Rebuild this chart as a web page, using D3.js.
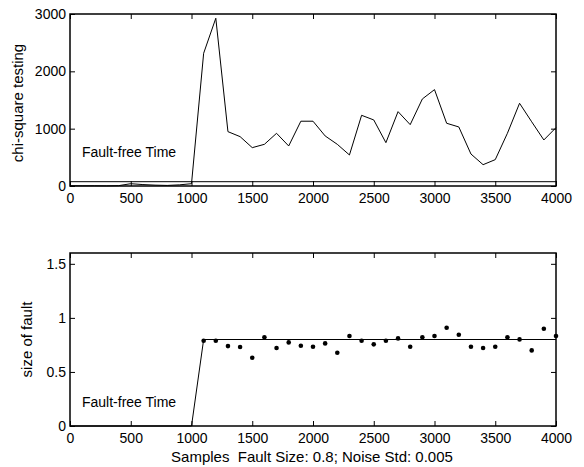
<!DOCTYPE html>
<html>
<head>
	<meta charset="utf-8">
	<script src="https://cdnjs.cloudflare.com/ajax/libs/d3/7.8.5/d3.min.js"></script>
	<style type="text/css">
		body { margin: 0; background: #fff; }
		text { font-family: "Liberation Sans", Arial, sans-serif; font-size: 14px; fill: #000; }
	</style>
</head>
<body>
	<script type="text/javascript">

		// samples every 100 from 0 to 4000
		let samples = d3.range(0, 4001, 100);
		let chiSquare = [5, 3, 4, 2, 6, 40, 25, 15, 10, 20, 40,
			2315, 2926, 948, 861, 669, 727, 919, 698, 1130, 1130,
			873, 727, 541, 1233, 1152, 756, 1297, 1070, 1518, 1681,
			1094, 1030, 558, 372, 460, 919, 1443, 1120, 803, 1018];
		let chiThreshold = 75;

		// fault size estimates, 1100..4000
		let dotSamples = d3.range(1100, 4001, 100);
		let faultEst = [0.789, 0.789, 0.739, 0.730, 0.631, 0.820, 0.721, 0.773, 0.742, 0.733,
			0.764, 0.677, 0.832, 0.789, 0.755, 0.789, 0.810, 0.733, 0.820, 0.832,
			0.909, 0.844, 0.733, 0.721, 0.733, 0.820, 0.801, 0.699, 0.900, 0.832];
		let trueFaultX = [0, 1000, 1100, 4000];
		let trueFaultY = [0, 0, 0.8, 0.8];

		let xTicks = [0, 500, 1000, 1500, 2000, 2500, 3000, 3500, 4000];
		let topTicks = [0, 1000, 2000, 3000];
		let botTicks = [0, 0.5, 1, 1.5];

		let svg = d3.select('body').append('svg')
			.attr('width', 584)
			.attr('height', 467);

		let left = 70, right = 556;
		let xScale = d3.scaleLinear().domain([0, 4000]).range([left, right]);

		function frame(y, yTicks, yFmt, top, bottom) {
			let g = svg.append('g');
			// ticks point inward on all four sides
			g.append('g').attr('transform', `translate(0,${bottom})`)
				.call(d3.axisBottom(xScale).tickValues(xTicks).tickSize(-5).tickPadding(7).tickFormat(d3.format('d')));
			g.append('g').attr('transform', `translate(0,${top})`)
				.call(d3.axisTop(xScale).tickValues(xTicks).tickSize(-5).tickFormat(''));
			g.append('g').attr('transform', `translate(${left},0)`)
				.call(d3.axisLeft(y).tickValues(yTicks).tickSize(-5).tickPadding(4).tickFormat(yFmt));
			g.append('g').attr('transform', `translate(${right},0)`)
				.call(d3.axisRight(y).tickValues(yTicks).tickSize(-5).tickFormat(''));
			g.selectAll('.domain').remove();
			g.selectAll('.tick line').attr('stroke', '#000');
			g.selectAll('text').attr('font-size', 14).attr('font-family', '"Liberation Sans", Arial, sans-serif');
			g.append('rect')
				.attr('x', left).attr('y', top)
				.attr('width', right - left).attr('height', bottom - top)
				.attr('fill', 'none').attr('stroke', '#000').attr('stroke-width', 1.5);
		}

		// top plot
		let topT = 14, topB = 186;
		let yTop = d3.scaleLinear().domain([0, 3000]).range([topB, topT]);
		frame(yTop, topTicks, d3.format('d'), topT, topB);

		svg.append('line')
			.attr('x1', xScale(0)).attr('x2', xScale(4000))
			.attr('y1', yTop(chiThreshold)).attr('y2', yTop(chiThreshold))
			.attr('stroke', '#000').attr('stroke-width', 1);

		let line1 = d3.line().x((d, i) => xScale(samples[i])).y(d => yTop(d));
		svg.append('path').datum(chiSquare)
			.attr('d', line1).attr('fill', 'none').attr('stroke', '#000').attr('stroke-width', 1);

		svg.append('text').attr('x', 82).attr('y', 157).text('Fault-free Time');
		svg.append('text')
			.attr('transform', `translate(23,${(topT + topB) / 2 + 3}) rotate(-90)`)
			.attr('text-anchor', 'middle')
			.style('font-size', '15px')
			.text('chi-square testing');

		// bottom plot
		let botT = 253, botB = 426;
		let yBot = d3.scaleLinear().domain([0, 1.6]).range([botB, botT]);
		frame(yBot, botTicks, d3.format('~g'), botT, botB);

		let line2 = d3.line().x((d, i) => xScale(trueFaultX[i])).y(d => yBot(d));
		svg.append('path').datum(trueFaultY)
			.attr('d', line2).attr('fill', 'none').attr('stroke', '#000').attr('stroke-width', 1);

		svg.selectAll('circle.est').data(faultEst).enter().append('circle')
			.attr('class', 'est')
			.attr('cx', (d, i) => xScale(dotSamples[i]))
			.attr('cy', d => yBot(d))
			.attr('r', 2.3)
			.attr('fill', '#000');

		svg.append('text').attr('x', 82).attr('y', 407).text('Fault-free Time');
		svg.append('text')
			.attr('transform', `translate(32,${(botT + botB) / 2}) rotate(-90)`)
			.attr('text-anchor', 'middle')
			.style('font-size', '15px')
			.text('size of fault');
		svg.append('text')
			.attr('x', 312).attr('y', 462)
			.attr('text-anchor', 'middle')
			.style('font-size', '15px')
			.style('white-space', 'pre')
			.text('Samples  Fault Size: 0.8; Noise Std: 0.005');
	</script>
</body>
</html>
